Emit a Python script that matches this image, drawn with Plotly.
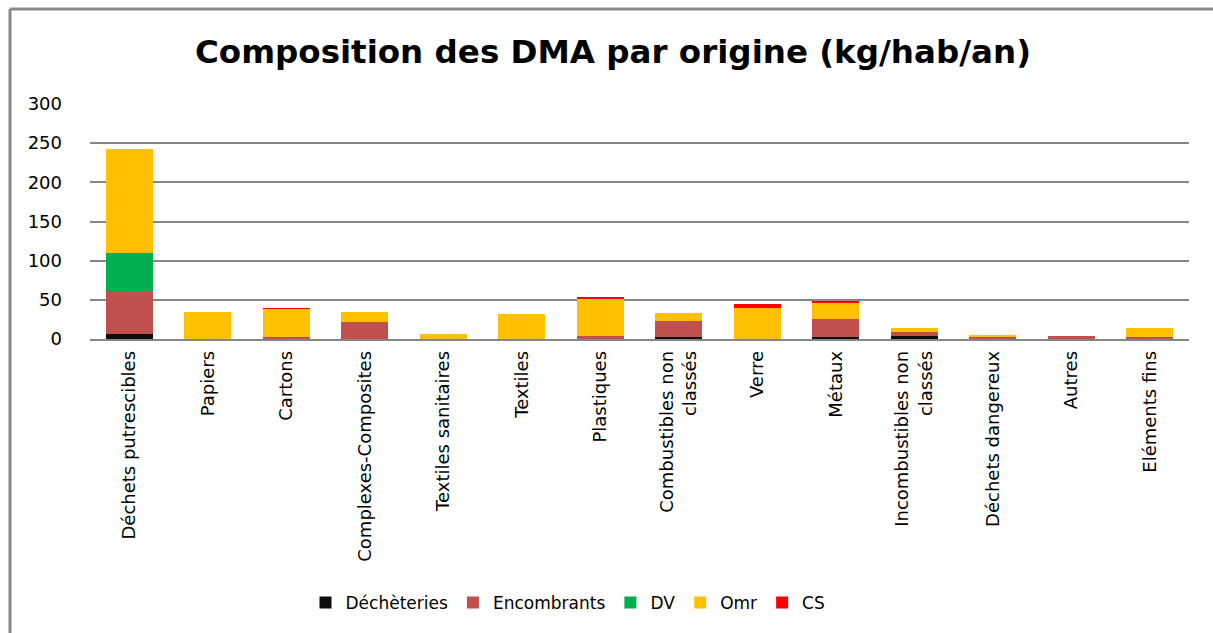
import plotly.graph_objects as go

categories = ["Déchets putrescibles", "Papiers", "Cartons", "Complexes-Composites",
              "Textiles sanitaires", "Textiles", "Plastiques", "Combustibles non<br>classés",
              "Verre", "Métaux", "Incombustibles non<br>classés", "Déchets dangereux",
              "Autres", "Eléments fins"]

decheteries = [6, 0, 0, 0, 0, 0, 0, 3, 0, 3, 4, 0, 0, 0]
encombrants = [55, 0, 3, 22, 0, 0, 4, 20.5, 0, 23, 5, 3, 4, 3]
dv = [49, 0, 0, 0, 0, 0, 0, 0, 0, 0, 0, 0, 0, 0]
omr = [132, 35, 35.5, 13, 6.5, 32, 47.5, 10, 40, 20.5, 5, 1.2, 0, 11.5]
cs = [0, 0, 1, 0, 0, 0, 1, 0, 5, 2.5, 0, 0, 0, 0]

series = [
    ("Déchèteries", decheteries, "#0d0d0d"),
    ("Encombrants", encombrants, "#C0504D"),
    ("DV", dv, "#00B050"),
    ("Omr", omr, "#FFC000"),
    ("CS", cs, "#FF0000"),
]

W, H = 1213, 633
L, R, T, B = 90, 24, 104, 294
pw, ph = W - L - R, H - T - B

def px2x(p):
    return (p - L) / pw

def py2y(p):
    return (H - B - p) / ph

fig = go.Figure()
for name, vals, color in series:
    fig.add_trace(go.Bar(x=categories, y=vals, name=name, marker_color=color,
                         marker_line_width=0))

font_family = "DejaVu Sans"
fig.update_layout(
    width=W, height=H,
    barmode="stack", bargap=0.4,
    plot_bgcolor="white", paper_bgcolor="white",
    margin=dict(l=L, r=R, t=T, b=B),
    font=dict(family=font_family, color="black"),
    title=dict(text="<b>Composition des DMA par origine (kg/hab/an)</b>",
               x=613 / W, xanchor="center", y=1 - 52 / H, yanchor="middle",
               font=dict(size=32.5, family=font_family, color="black")),
    showlegend=True,
    legend=dict(orientation="h", x=px2x(568), xanchor="center", y=py2y(603),
                yanchor="middle", font=dict(size=17, family=font_family),
                itemwidth=30, traceorder="normal", bgcolor="rgba(0,0,0,0)"),
    yaxis=dict(range=[0, 300], dtick=50, showgrid=True, gridcolor="#868686",
               gridwidth=1.5, zeroline=False, showline=False,
               tickfont=dict(size=18, family=font_family), ticks="",
               ticklabelstandoff=27),
    xaxis=dict(showline=True, linecolor="#868686", linewidth=1.5, ticks="",
               tickangle=-90, tickfont=dict(size=18, family=font_family),
               ticklabelstandoff=3, showgrid=False),
)

border = "#888888"
fig.add_shape(type="line", xref="paper", yref="paper",
              x0=px2x(10), x1=px2x(W + 5), y0=py2y(9), y1=py2y(9),
              line=dict(color=border, width=3))
fig.add_shape(type="line", xref="paper", yref="paper",
              x0=px2x(10), x1=px2x(10), y0=py2y(9), y1=py2y(H + 5),
              line=dict(color=border, width=3))

fig.write_html("out.html", config={"displayModeBar": False},
               post_script="document.body.style.margin='0';")
